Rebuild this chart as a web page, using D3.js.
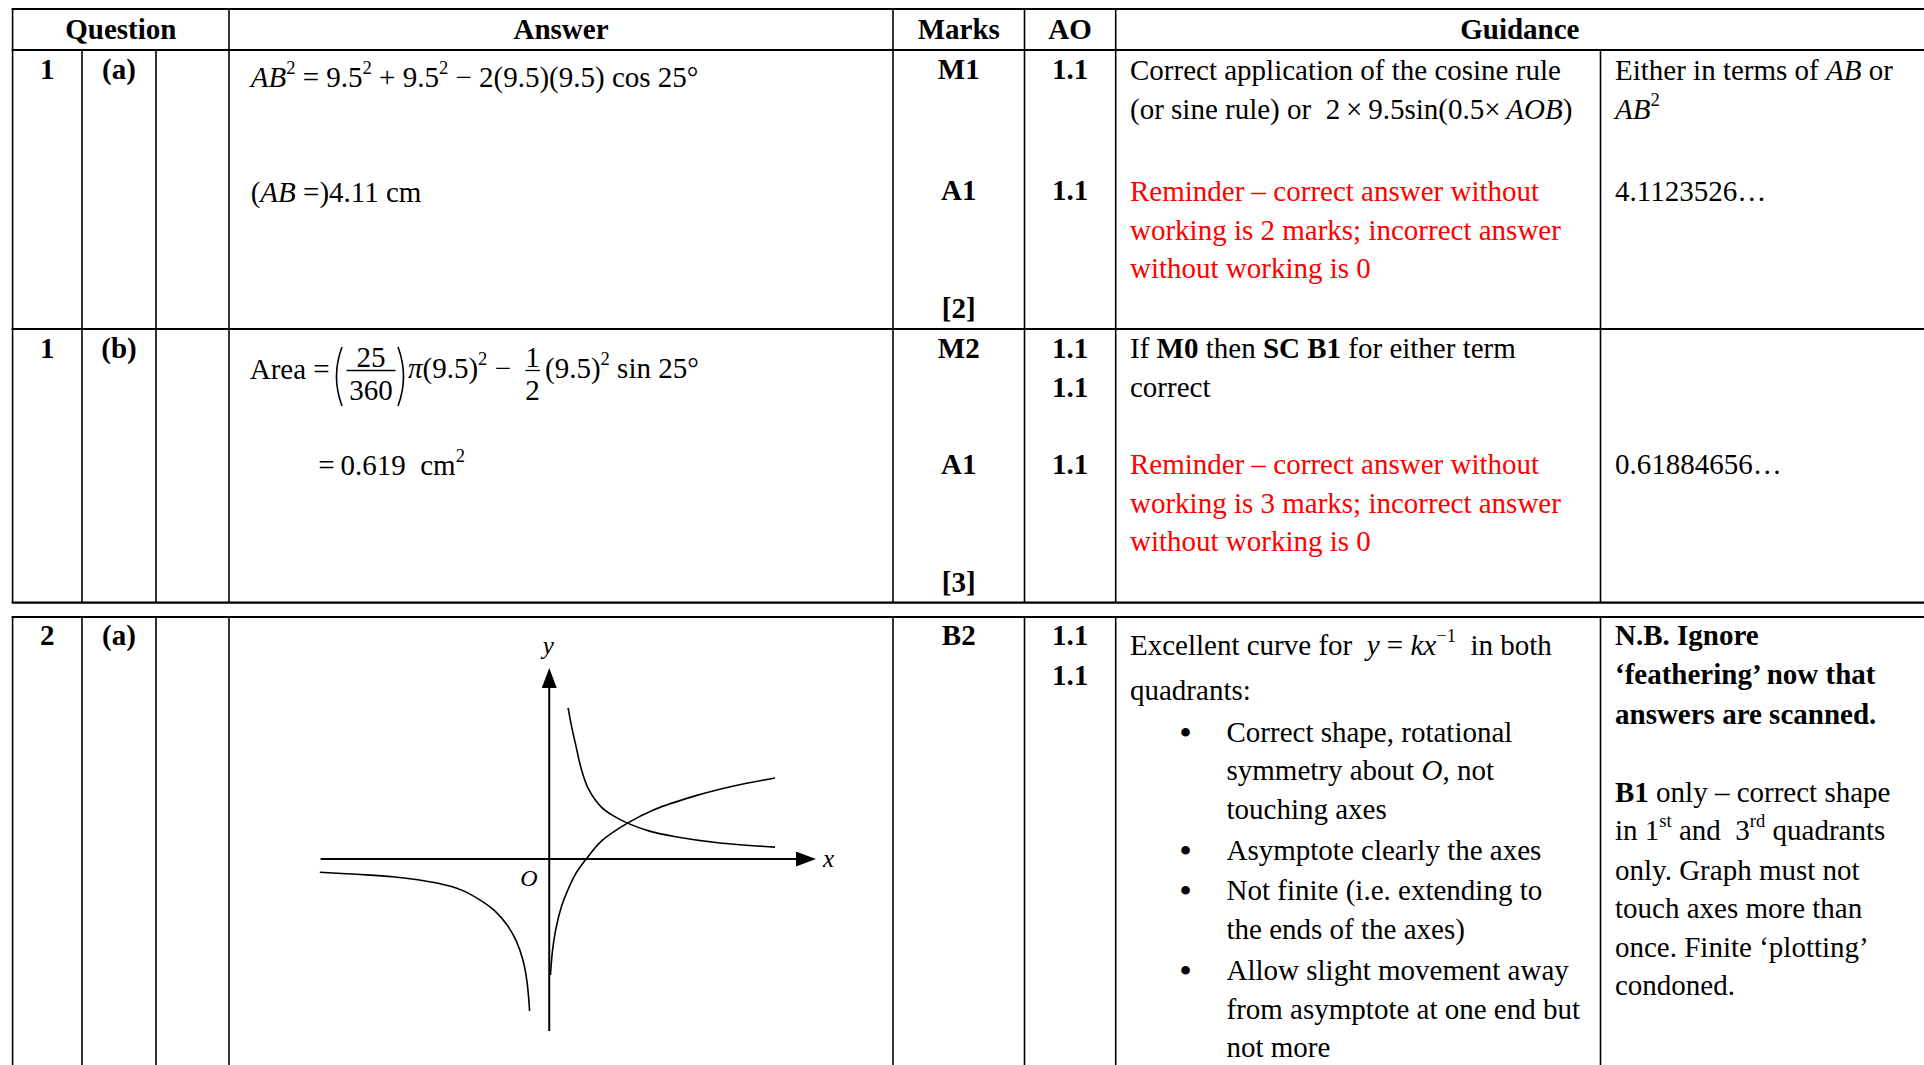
<!DOCTYPE html>
<meta charset="utf-8">
<style>
  body { margin: 0; background: #fff; }
  svg text { white-space: pre; }
</style>
<svg width="1924" height="1065"></svg>
<script src="https://d3js.org/d3.v7.min.js"></script>
<script>

// ---------- data ----------
var headers = ["Question", "Answer", "Marks", "AO", "Guidance"];
var questionNums = ["1", "1", "2"];
var questionParts = ["(a)", "(b)", "(a)"];
var markCodes = [["M1", "A1", "[2]"], ["M2", "A1", "[3]"], ["B2"]];
var aoCodes = [["1.1", "1.1"], ["1.1", "1.1", "1.1"], ["1.1", "1.1"]];

// markup: *bold*  _italic_  ^superscript^
var answer1a = ["_AB_^2^ = 9.5^2^ + 9.5^2^ − 2(9.5)(9.5) cos 25°", "(_AB_ =)4.11 cm"];
var areaLead = "Area =";
var areaFracA = ["25", "360"];
var areaMid = "_π_(9.5)^2^ −";
var areaFracB = ["1", "2"];
var areaTail = "(9.5)^2^ sin 25°";
var areaResult = "=\u20090.619  cm^2^";

var guide1a = ["Correct application of the cosine rule",
               "(or sine rule) or  2\u2009×\u20099.5sin(0.5×\u2009_AOB_)"];
var reminder1a = ["Reminder – correct answer without",
                  "working is 2 marks; incorrect answer",
                  "without working is 0"];
var note1a = ["Either in terms of _AB_ or", "_AB_^2^"];
var value1a = "4.1123526…";

var guide1b = ["If *M0* then *SC B1* for either term", "correct"];
var reminder1b = ["Reminder – correct answer without",
                  "working is 3 marks; incorrect answer",
                  "without working is 0"];
var value1b = "0.61884656…";

var guide2a = ["Excellent curve for  _y_ = _kx_^−1^  in both", "quadrants:"];
var bullets2a = [["Correct shape, rotational", "symmetry about _O_, not", "touching axes"],
                 ["Asymptote clearly the axes"],
                 ["Not finite (i.e. extending to", "the ends of the axes)"],
                 ["Allow slight movement away", "from asymptote at one end but", "not more"]];
var note2a = ["*N.B. Ignore*", "*‘feathering’ now that*", "*answers are scanned.*", "",
              "*B1* only – correct shape", "in 1^st^ and  3^rd^ quadrants", "only. Graph must not",
              "touch axes more than", "once. Finite ‘plotting’", "condoned."];

// sketch graph (axis units)
var graphX = [-5.7, 6.65];
var graphY = [-4.3, 4.78];
var curveQ1 = [[0.47, 3.78], [0.56, 3.3], [0.65, 2.9], [0.8, 2.25], [0.98, 1.75], [1.3, 1.3],
               [1.6, 1.08], [1.95, 0.9], [2.5, 0.7], [3.15, 0.56], [4.2, 0.41], [5.63, 0.3]];
var curveQ3 = [[-5.72, -0.33], [-4.8, -0.38], [-3.9, -0.44], [-2.8, -0.6], [-2.2, -0.77],
               [-1.73, -1.02], [-1.35, -1.3], [-1.05, -1.65], [-0.82, -2.05], [-0.65, -2.55],
               [-0.55, -3.1], [-0.49, -3.8]];
var curveLog = [[0.03, -2.9], [0.08, -2.3], [0.16, -1.77], [0.3, -1.2], [0.43, -0.85], [0.65, -0.38],
                [0.92, 0], [1.3, 0.45], [1.95, 0.9], [2.6, 1.23], [3.7, 1.6], [4.6, 1.83], [5.63, 2.03]];

// ---------- layout ----------
var FONT = "'Liberation Serif', 'Times New Roman', serif";
var SIZE = 29;
var RED = "#ff0000";
var cols = [12.6, 82, 156, 229, 893, 1024.5, 1115.7, 1600.5, 1924];
var mid = function(a, b) { return (cols[a] + cols[b]) / 2; };

var svg = d3.select("svg");
svg.append("rect").attr("width", "100%").attr("height", "100%").attr("fill", "#fff");

function rich(x, y, src, opt) {
  opt = opt || {};
  var size = opt.size || SIZE;
  var t = svg.append("text")
    .attr("x", x).attr("y", y)
    .attr("font-family", FONT)
    .attr("font-size", size)
    .attr("font-weight", opt.bold ? "bold" : "normal")
    .attr("font-style", opt.italic ? "italic" : "normal")
    .attr("text-anchor", opt.anchor || "start")
    .attr("fill", opt.color || "#000");
  var raised = 0;
  src.split(/(\*[^*]+\*|_[^_]+_|\^[^^]+\^)/).filter(function(s) { return s.length; }).forEach(function(tok) {
    var s = t.append("tspan");
    var dy = raised;
    raised = 0;
    if (tok[0] === "*") {
      s.attr("font-weight", "bold").text(tok.slice(1, -1));
    } else if (tok[0] === "_") {
      s.attr("font-style", "italic").text(tok.slice(1, -1));
    } else if (tok[0] === "^") {
      var r = size * 0.44;
      dy -= r;
      raised = r;
      s.attr("font-size", size * 0.64).text(tok.slice(1, -1));
    } else {
      s.text(tok);
    }
    if (dy) s.attr("dy", dy);
  });
  return t;
}

// ---------- grid lines ----------
var hRules = [9, 50, 329, 602.7, 617];
svg.selectAll("line.h").data(hRules).enter().append("line")
  .attr("x1", cols[0] - 1).attr("x2", cols[8])
  .attr("y1", function(d) { return d; }).attr("y2", function(d) { return d; })
  .attr("stroke", "#000").attr("stroke-width", 2.2);

var vRules = [
  [0, 9, 602.7], [1, 50, 602.7], [2, 50, 602.7], [3, 9, 602.7], [4, 9, 602.7],
  [5, 9, 602.7], [6, 9, 602.7], [7, 50, 602.7]
];
[0, 1, 2, 3, 4, 5, 6, 7].forEach(function(c) { vRules.push([c, 617, 1065]); });
svg.selectAll("line.v").data(vRules).enter().append("line")
  .attr("x1", function(d) { return cols[d[0]]; }).attr("x2", function(d) { return cols[d[0]]; })
  .attr("y1", function(d) { return d[1]; }).attr("y2", function(d) { return d[2]; })
  .attr("stroke", "#000").attr("stroke-width", 1.6);

// ---------- header ----------
var headerX = [mid(0, 3), mid(3, 4), mid(4, 5), mid(5, 6), mid(6, 8)];
headers.forEach(function(h, i) { rich(headerX[i], 38.5, h, {bold: true, anchor: "middle"}); });

// ---------- question / marks / AO columns ----------
var firstBase = [79, 357.5, 645];
var markBase = [[79, 200, 318], [357.5, 473.5, 592], [645]];
var aoBase = [[79, 200], [357.5, 396.5, 473.5], [645, 685]];
questionNums.forEach(function(q, i) {
  rich(mid(0, 1), firstBase[i], q, {bold: true, anchor: "middle"});
  rich(mid(1, 2), firstBase[i], questionParts[i], {bold: true, anchor: "middle"});
  markCodes[i].forEach(function(m, j) { rich(mid(4, 5), markBase[i][j], m, {bold: true, anchor: "middle"}); });
  aoCodes[i].forEach(function(a, j) { rich(mid(5, 6), aoBase[i][j], a, {bold: true, anchor: "middle"}); });
});

// ---------- answers ----------
var ansX = 250.7;
rich(ansX, 86.5, answer1a[0]);
rich(ansX, 201.5, answer1a[1]);

// area formula
var areaBase = 378;
rich(ansX - 1, areaBase + 1, areaLead);
function fraction(cx, x0, x1, parts) {
  rich(cx, areaBase - 11.5, parts[0], {anchor: "middle"});
  svg.append("line").attr("x1", x0).attr("x2", x1)
    .attr("y1", areaBase - 7.5).attr("y2", areaBase - 7.5)
    .attr("stroke", "#000").attr("stroke-width", 1.3);
  rich(cx, areaBase + 22, parts[1], {anchor: "middle"});
}
function bigParen(x, dir) {
  svg.append("path")
    .attr("d", "M" + x + ",347 Q" + (x - dir * 11) + ",376.5 " + x + ",406")
    .attr("fill", "none").attr("stroke", "#000").attr("stroke-width", 1.6);
}
bigParen(342, 1);
fraction(371, 346.5, 395.5, areaFracA);
bigParen(398, -1);
rich(408, areaBase, areaMid);
fraction(532.5, 525.5, 540, areaFracB);
rich(545, areaBase, areaTail);
rich(318.3, 475, areaResult);

// ---------- guidance ----------
var gX = 1130, nX = 1615;
rich(gX, 79.5, guide1a[0]);
rich(gX, 118.5, guide1a[1]);
reminder1a.forEach(function(l, i) { rich(gX, 201 + i * 38.5, l, {color: RED}); });
rich(nX, 79.5, note1a[0]);
rich(nX, 118.5, note1a[1]);
rich(nX, 201, value1a);

rich(gX, 357.5, guide1b[0]);
rich(gX, 396.5, guide1b[1]);
reminder1b.forEach(function(l, i) { rich(gX, 474 + i * 38.5, l, {color: RED}); });
rich(nX, 474, value1b);

rich(gX, 654.5, guide2a[0]);
rich(gX, 699.5, guide2a[1]);
var bulletBase = [[741.5, 780, 818.5], [860], [900, 938.5], [980, 1018.5, 1057]];
bullets2a.forEach(function(b, i) {
  svg.append("text").attr("x", 1185.5).attr("y", bulletBase[i][0] + 3)
    .attr("font-family", FONT).attr("font-size", 36).attr("text-anchor", "middle").text("•");
  b.forEach(function(l, j) { rich(1226.5, bulletBase[i][j], l); });
});
var noteBase = [644.5, 684, 723.5, 0, 802, 840, 879.5, 918, 956.5, 994.5];
note2a.forEach(function(l, i) { if (l) rich(nX, noteBase[i], l); });

// ---------- sketch graph ----------
var gx = d3.scaleLinear().domain(graphX).range([320.6, 816]);
var gy = d3.scaleLinear().domain(graphY).range([1031, 668]);

var defs = svg.append("defs");
defs.append("marker").attr("id", "arrow")
  .attr("markerUnits", "userSpaceOnUse")
  .attr("markerWidth", 22).attr("markerHeight", 16)
  .attr("refX", 10).attr("refY", 7.5).attr("orient", "auto")
  .append("path").attr("d", "M0,0 L20,7.5 L0,15 Z").attr("fill", "#000");

svg.append("line")
  .attr("x1", gx(graphX[0])).attr("x2", gx(graphX[1]) - 10)
  .attr("y1", gy(0)).attr("y2", gy(0))
  .attr("stroke", "#000").attr("stroke-width", 2).attr("marker-end", "url(#arrow)");
svg.append("line")
  .attr("x1", gx(0)).attr("x2", gx(0))
  .attr("y1", gy(graphY[0])).attr("y2", gy(graphY[1]) + 10)
  .attr("stroke", "#000").attr("stroke-width", 2).attr("marker-end", "url(#arrow)");

var curve = d3.line()
  .x(function(d) { return gx(d[0]); })
  .y(function(d) { return gy(d[1]); })
  .curve(d3.curveCatmullRom.alpha(0.5));
svg.selectAll("path.curve").data([curveQ1, curveQ3, curveLog]).enter().append("path")
  .attr("class", "curve")
  .attr("d", curve)
  .attr("fill", "none").attr("stroke", "#000").attr("stroke-width", 1.6);

rich(gx(0) - 1, gy(graphY[1]) - 14, "y", {italic: true, size: 25, anchor: "middle"});
rich(gx(graphX[1]) + 7, gy(0) + 8, "x", {italic: true, size: 25});
rich(gx(0) - 29, gy(0) + 27, "O", {italic: true, size: 24});

</script>
